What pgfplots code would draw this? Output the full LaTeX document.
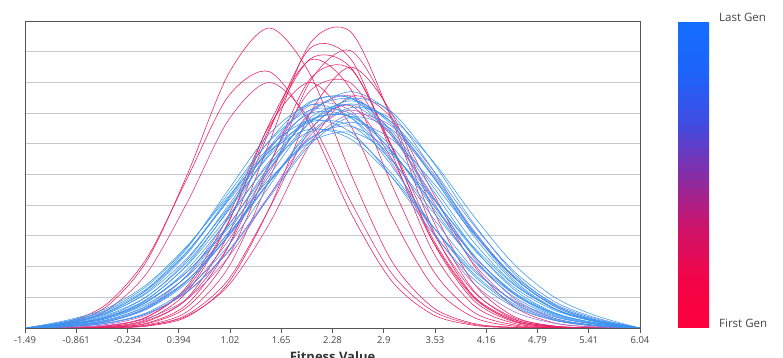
\documentclass[border=0pt]{standalone}
\usepackage{pgfplots}
\pgfplotsset{compat=1.18}
\usepackage{fontspec}
\setmainfont{Open Sans}
\definecolor{redc}{RGB}{235,25,90}
\definecolor{redc2}{RGB}{222,45,120}
\definecolor{magc}{RGB}{190,85,180}
\definecolor{magc2}{RGB}{150,110,215}
\definecolor{bluec}{RGB}{55,150,240}
\definecolor{bluec2}{RGB}{75,135,235}
\definecolor{gridc}{RGB}{200,200,200}
\definecolor{axisc}{RGB}{85,85,85}
\definecolor{textc}{RGB}{70,70,70}
\pgfplotsset{
  colormap={gen}{rgb255=(255,0,60) rgb255=(242,5,72) rgb255=(205,20,108) rgb255=(135,45,165) rgb255=(65,75,225) rgb255=(30,100,250) rgb255=(20,110,255)},
  rc/.style={redc, line width=0.55pt, smooth},
  rc2/.style={redc2, line width=0.55pt, smooth},
  mc/.style={magc, line width=0.55pt, smooth},
  mc2/.style={magc2, line width=0.55pt, smooth},
  bc/.style={bluec, line width=0.55pt, smooth},
  bc2/.style={bluec2, line width=0.55pt, smooth},
}
\begin{document}
\begin{tikzpicture}
\useasboundingbox (0pt,0pt) rectangle (783pt,358pt);
\begin{axis}[
  at={(25pt,30pt)}, anchor=south west,
  scale only axis, width=615pt, height=307pt,
  xmin=-1.49, xmax=6.04, ymin=0, ymax=10,
  xtick={-1.49,-0.8625,-0.235,0.3925,1.02,1.6475,2.275,2.9025,3.53,4.1575,4.785,5.4125,6.04},
  xticklabels={-1.49,-0.861,-0.234,0.394,1.02,1.65,2.28,2.9,3.53,4.16,4.79,5.41,6.04},
  ytick={1,...,9}, yticklabels={},
  ymajorgrids, grid style={gridc, line width=0.8pt},
  y tick style={draw=none},
  tick align=outside, xtick pos=left,
  major tick length=5pt,
  x tick style={axisc, line width=0.6pt},
  axis line style={axisc, line width=0.8pt},
  tick label style={font=\fontsize{9.5}{11}\selectfont, text=textc},
  /pgf/number format/assume math mode=true,
  xlabel={Fitness Value},
  xlabel style={at={(axis description cs:0.5,0)}, anchor=north, inner sep=0pt, yshift=-23pt, font=\fontsize{13}{15}\selectfont\bfseries, text=black!80},
  colorbar sampled, colormap name=gen, point meta min=0, point meta max=1,
  colorbar style={
    at={(parent axis.north east)}, anchor=north west,
    xshift=29.5pt, yshift=-1pt,
    scale only axis, width=31pt, height=306pt,
    ytick=\empty, xtick=\empty,
    axis line style={draw=none},
    samples=40,
  },
]
% first generations (red)
\addplot[rc] coordinates {(-1.49,0)(-1,0.15)(-0.5,0.68)(0,2.18)(0.5,5.02)(1,8.27)(1.5,9.77)(2,8.27)(2.5,5.02)(3,2.18)(3.5,0.68)(4,0.15)(4.5,0.02)(5,0)(5.5,0)(6.04,0)};
\addplot[rc] coordinates {(-1.49,0)(-1,0.18)(-0.5,0.76)(0,2.27)(0.5,4.90)(1,7.55)(1.5,8.35)(2,6.61)(2.5,3.75)(3,1.53)(3.5,0.44)(4,0.09)(4.5,0.01)(5,0)(5.5,0)(6.04,0)};
\addplot[rc2] coordinates {(-1.49,0)(-1,0.12)(-0.5,0.56)(0,1.78)(0.5,4.11)(1,6.77)(1.5,8.0)(2,6.77)(2.5,4.11)(3,1.78)(3.5,0.56)(4,0.12)(4.5,0.02)(5,0)(5.5,0)(6.04,0)};
\addplot[rc] coordinates {(-1.49,0)(-1,0)(-0.5,0.02)(0,0.16)(0.5,0.79)(1,2.66)(1.5,6.04)(2,9.27)(2.5,9.64)(3,6.79)(3.5,3.23)(4,1.04)(4.5,0.23)(5,0.03)(5.5,0)(6.04,0)};
\addplot[rc] coordinates {(-1.49,0)(-1,0)(-0.5,0.03)(0,0.21)(0.5,0.98)(1,3.05)(1.5,6.41)(2,9.11)(2.5,8.76)(3,5.70)(3.5,2.51)(4,0.75)(4.5,0.15)(5,0.02)(5.5,0)(6.04,0)};
\addplot[rc2] coordinates {(-1.49,0)(-1,0)(-0.5,0.01)(0,0.10)(0.5,0.54)(1,1.97)(1.5,4.83)(2,8.03)(2.5,9.03)(3,6.87)(3.5,3.54)(4,1.23)(4.5,0.29)(5,0.05)(5.5,0)(6.04,0)};
\addplot[rc] coordinates {(-1.49,0)(-1,0)(-0.5,0.04)(0,0.28)(0.5,1.19)(1,3.42)(1.5,6.64)(2,8.73)(2.5,7.77)(3,4.67)(3.5,1.90)(4,0.52)(4.5,0.10)(5,0.01)(5.5,0)(6.04,0)};
\addplot[rc] coordinates {(-1.49,0)(-1,0)(-0.5,0.01)(0,0.06)(0.5,0.37)(1,1.47)(1.5,3.89)(2,6.99)(2.5,8.5)(3,6.99)(3.5,3.89)(4,1.47)(4.5,0.37)(5,0.06)(5.5,0.01)(6.04,0)};
\addplot[rc2] coordinates {(-1.49,0)(-1,0.01)(-0.5,0.04)(0,0.24)(0.5,0.95)(1,2.66)(1.5,5.35)(2,7.72)(2.5,7.98)(3,5.92)(3.5,3.14)(4,1.19)(4.5,0.33)(5,0.06)(5.5,0.01)(6.04,0)};
\addplot[rc] coordinates {(-1.49,0)(-1,0.01)(-0.5,0.06)(0,0.35)(0.5,1.38)(1,3.66)(1.5,6.58)(2,8.0)(2.5,6.58)(3,3.66)(3.5,1.38)(4,0.35)(4.5,0.06)(5,0.01)(5.5,0)(6.04,0)};
\addplot[rc2] coordinates {(-1.49,0)(-1,0)(-0.5,0.01)(0,0.08)(0.5,0.40)(1,1.38)(1.5,3.39)(2,5.98)(2.5,7.55)(3,6.83)(3.5,4.43)(4,2.06)(4.5,0.69)(5,0.16)(5.5,0.03)(6.04,0)};
\addplot[rc] coordinates {(-1.49,0)(-1,0.01)(-0.5,0.07)(0,0.36)(0.5,1.31)(1,3.45)(1.5,6.49)(2,8.76)(2.5,8.48)(3,5.87)(3.5,2.92)(4,1.04)(4.5,0.27)(5,0.05)(5.5,0.01)(6.04,0)};
\addplot[rc2] coordinates {(-1.49,0)(-1,0)(-0.5,0.01)(0,0.08)(0.5,0.44)(1,1.58)(1.5,3.88)(2,6.44)(2.5,7.24)(3,5.51)(3.5,2.84)(4,0.99)(4.5,0.23)(5,0.04)(5.5,0)(6.04,0)};
\addplot[rc] coordinates {(-1.49,0)(-1,0)(-0.5,0.02)(0,0.14)(0.5,0.69)(1,2.32)(1.5,5.28)(2,8.11)(2.5,8.43)(3,5.93)(3.5,2.83)(4,0.91)(4.5,0.20)(5,0.03)(5.5,0)(6.04,0)};
% middle generations (magenta)
\addplot[mc] coordinates {(-1.49,0)(-1,0.02)(-0.5,0.11)(0,0.43)(0.5,1.25)(1,2.85)(1.5,5.07)(2,7.02)(2.5,7.56)(3,6.35)(3.5,4.15)(4,2.11)(4.5,0.84)(5,0.26)(5.5,0.06)(6.04,0)};
\addplot[mc] coordinates {(-1.49,0)(-1,0.02)(-0.5,0.08)(0,0.31)(0.5,0.96)(1,2.31)(1.5,4.31)(2,6.27)(2.5,7.1)(3,6.27)(3.5,4.31)(4,2.31)(4.5,0.96)(5,0.31)(5.5,0.08)(6.04,0)};
\addplot[mc2] coordinates {(-1.49,0)(-1,0.04)(-0.5,0.19)(0,0.66)(0.5,1.74)(1,3.60)(1.5,5.79)(2,7.25)(2.5,7.07)(3,5.37)(3.5,3.18)(4,1.46)(4.5,0.53)(5,0.15)(5.5,0.03)(6.04,0)};
\addplot[mc2] coordinates {(-1.49,0)(-1,0.04)(-0.5,0.15)(0,0.47)(0.5,1.20)(1,2.51)(1.5,4.31)(2,6.06)(2.5,6.97)(3,6.57)(3.5,5.06)(4,3.20)(4.5,1.65)(5,0.70)(5.5,0.24)(6.04,0)};
% last generations (blue)
\addplot[bc] coordinates {(-1.49,0)(-1,0.10)(-0.5,0.33)(0,0.92)(0.5,2.08)(1,3.87)(1.5,5.88)(2,7.33)(2.5,7.48)(3,6.25)(3.5,4.27)(4,2.39)(4.5,1.10)(5,0.41)(5.5,0.13)(6.04,0)};
\addplot[bc] coordinates {(-1.49,0)(-1,0.07)(-0.5,0.25)(0,0.73)(0.5,1.72)(1,3.33)(1.5,5.28)(2,6.85)(2.5,7.27)(3,6.32)(3.5,4.50)(4,2.62)(4.5,1.25)(5,0.49)(5.5,0.16)(6.04,0)};
\addplot[bc2] coordinates {(-1.49,0)(-1,0.12)(-0.5,0.38)(0,1.02)(0.5,2.23)(1,3.99)(1.5,5.84)(2,6.99)(2.5,6.85)(3,5.50)(3.5,3.61)(4,1.94)(4.5,0.86)(5,0.31)(5.5,0.09)(6.04,0)};
\addplot[bc] coordinates {(-1.49,0)(-1,0.05)(-0.5,0.20)(0,0.61)(0.5,1.49)(1,3.01)(1.5,4.96)(2,6.70)(2.5,7.40)(3,6.70)(3.5,4.96)(4,3.01)(4.5,1.49)(5,0.61)(5.5,0.20)(6.04,0)};
\addplot[bc] coordinates {(-1.49,0)(-1,0.04)(-0.5,0.15)(0,0.46)(0.5,1.18)(1,2.48)(1.5,4.25)(2,5.97)(2.5,6.87)(3,6.47)(3.5,4.99)(4,3.15)(4.5,1.63)(5,0.69)(5.5,0.24)(6.04,0)};
\addplot[bc2] coordinates {(-1.49,0)(-1,0.15)(-0.5,0.45)(0,1.17)(0.5,2.44)(1,4.19)(1.5,5.89)(2,6.77)(2.5,6.38)(3,4.92)(3.5,3.10)(4,1.60)(4.5,0.68)(5,0.24)(5.5,0.07)(6.04,0)};
\addplot[bc] coordinates {(-1.49,0)(-1,0.16)(-0.5,0.47)(0,1.13)(0.5,2.29)(1,3.91)(1.5,5.61)(2,6.79)(2.5,6.90)(3,5.91)(3.5,4.26)(4,2.58)(4.5,1.32)(5,0.57)(5.5,0.21)(6.04,0)};
\addplot[bc] coordinates {(-1.49,0)(-1,0.14)(-0.5,0.41)(0,1.03)(0.5,2.16)(1,3.82)(1.5,5.67)(2,7.10)(2.5,7.47)(3,6.62)(3.5,4.94)(4,3.10)(4.5,1.64)(5,0.73)(5.5,0.27)(6.04,0)};
\addplot[bc2] coordinates {(-1.49,0)(-1,0.10)(-0.5,0.30)(0,0.78)(0.5,1.69)(1,3.08)(1.5,4.75)(2,6.15)(2.5,6.70)(3,6.15)(3.5,4.75)(4,3.08)(4.5,1.69)(5,0.78)(5.5,0.30)(6.04,0)};
\addplot[bc] coordinates {(-1.49,0)(-1,0.21)(-0.5,0.58)(0,1.36)(0.5,2.66)(1,4.38)(1.5,6.08)(2,7.10)(2.5,6.98)(3,5.77)(3.5,4.02)(4,2.36)(4.5,1.16)(5,0.48)(5.5,0.17)(6.04,0)};
\addplot[bc] coordinates {(-1.49,0)(-1,0.08)(-0.5,0.26)(0,0.70)(0.5,1.57)(1,2.98)(1.5,4.74)(2,6.36)(2.5,7.18)(3,6.81)(3.5,5.45)(4,3.66)(4.5,2.07)(5,0.99)(5.5,0.40)(6.04,0)};
\addplot[bc] coordinates {(-1.49,0)(-1,0.24)(-0.5,0.63)(0,1.42)(0.5,2.69)(1,4.28)(1.5,5.74)(2,6.48)(2.5,6.15)(3,4.92)(3.5,3.31)(4,1.87)(4.5,0.89)(5,0.36)(5.5,0.12)(6.04,0)};
\addplot[bc2] coordinates {(-1.49,0)(-1,0.06)(-0.5,0.23)(0,0.66)(0.5,1.56)(1,3.01)(1.5,4.77)(2,6.19)(2.5,6.57)(3,5.71)(3.5,4.07)(4,2.37)(4.5,1.13)(5,0.44)(5.5,0.14)(6.04,0)};
\addplot[bc] coordinates {(-1.49,0)(-1,0.09)(-0.5,0.30)(0,0.84)(0.5,1.92)(1,3.56)(1.5,5.42)(2,6.75)(2.5,6.89)(3,5.75)(3.5,3.93)(4,2.20)(4.5,1.01)(5,0.38)(5.5,0.12)(6.04,0)};
\addplot[bc] coordinates {(-1.49,0)(-1,0.12)(-0.5,0.35)(0,0.88)(0.5,1.84)(1,3.26)(1.5,4.84)(2,6.06)(2.5,6.38)(3,5.65)(3.5,4.22)(4,2.65)(4.5,1.40)(5,0.62)(5.5,0.23)(6.04,0)};
\addplot[bc2] coordinates {(-1.49,0)(-1,0.06)(-0.5,0.21)(0,0.63)(0.5,1.55)(1,3.13)(1.5,5.16)(2,6.97)(2.5,7.70)(3,6.97)(3.5,5.16)(4,3.13)(4.5,1.55)(5,0.63)(5.5,0.21)(6.04,0)};
\addplot[bc] coordinates {(-1.49,0)(-1,0.18)(-0.5,0.51)(0,1.23)(0.5,2.49)(1,4.24)(1.5,6.10)(2,7.37)(2.5,7.50)(3,6.42)(3.5,4.63)(4,2.81)(4.5,1.43)(5,0.62)(5.5,0.22)(6.04,0)};
\addplot[bc] coordinates {(-1.49,0)(-1,0.11)(-0.5,0.35)(0,0.94)(0.5,2.05)(1,3.65)(1.5,5.34)(2,6.40)(2.5,6.27)(3,5.03)(3.5,3.31)(4,1.78)(4.5,0.78)(5,0.28)(5.5,0.08)(6.04,0)};
\addplot[bc] coordinates {(-1.49,0)(-1,0.04)(-0.5,0.16)(0,0.50)(0.5,1.29)(1,2.69)(1.5,4.62)(2,6.49)(2.5,7.47)(3,7.04)(3.5,5.42)(4,3.42)(4.5,1.77)(5,0.75)(5.5,0.26)(6.04,0)};
\addplot[bc2] coordinates {(-1.49,0)(-1,0.11)(-0.5,0.33)(0,0.85)(0.5,1.84)(1,3.36)(1.5,5.17)(2,6.70)(2.5,7.30)(3,6.70)(3.5,5.17)(4,3.36)(4.5,1.84)(5,0.85)(5.5,0.33)(6.04,0)};
\addplot[bc] coordinates {(-1.49,0)(-1,0.16)(-0.5,0.49)(0,1.25)(0.5,2.62)(1,4.50)(1.5,6.32)(2,7.27)(2.5,6.85)(3,5.28)(3.5,3.33)(4,1.72)(4.5,0.73)(5,0.25)(5.5,0.07)(6.04,0)};
\addplot[bc] coordinates {(-1.49,0)(-1,0.20)(-0.5,0.55)(0,1.28)(0.5,2.51)(1,4.14)(1.5,5.74)(2,6.71)(2.5,6.59)(3,5.45)(3.5,3.80)(4,2.22)(4.5,1.10)(5,0.46)(5.5,0.16)(6.04,0)};
\end{axis}
\node[anchor=base west, inner sep=0pt, font=\fontsize{11.5}{13}\selectfont, text=textc] at (719pt,336pt) {Last Gen};
\node[anchor=base west, inner sep=0pt, font=\fontsize{11.5}{13}\selectfont, text=textc] at (719pt,30pt) {First Gen};
\end{tikzpicture}
\end{document}
